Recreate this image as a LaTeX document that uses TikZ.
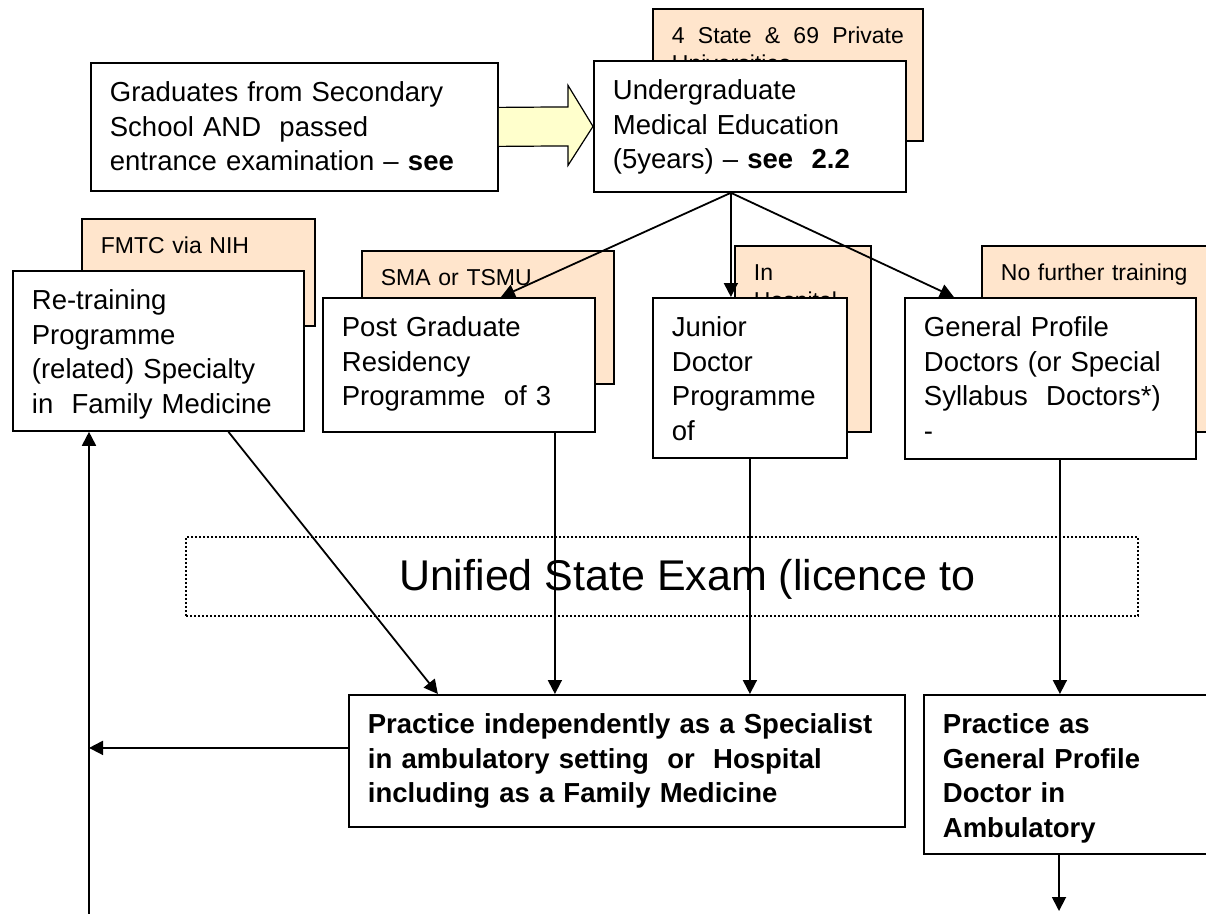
\documentclass[tikz,border=0pt]{standalone}
\usepackage{fontspec}
\setmainfont{Liberation Sans}
\usetikzlibrary{arrows.meta,calc}

\definecolor{notepeach}{RGB}{255,229,204}
\definecolor{arrowyellow}{RGB}{255,255,204}
\newcommand{\mainfnt}{\fontsize{27.5}{34.5}\selectfont}
\newcommand{\notefnt}{\fontsize{23}{28}\selectfont}
\newcommand{\examfnt}{\fontsize{43}{50}\selectfont}

\begin{document}
\begin{tikzpicture}[x=1pt, y=-1pt,
    % Styles
    box/.style={draw, fill=white, line width=1.8pt, anchor=north west,
                align=left, inner xsep=19pt, inner ysep=0pt,
                text height=39pt, font=\mainfnt},
    note/.style={box, fill=notepeach, text height=35pt, font=\notefnt},
    keybox/.style={box, font=\mainfnt\bfseries},
    exam/.style={draw, line width=2pt, dash pattern=on 2pt off 2pt,
                 anchor=north west, inner sep=0pt,
                 minimum width=952pt, minimum height=79pt,
                 text height=33pt, text depth=6pt, font=\examfnt},
    link/.style={draw, line width=1.8pt, -{Triangle[length=14pt,width=14pt]}}
]
\clip (0,0) rectangle (1206,913);

% Notes behind the boxes
\node[note, text width=232pt, text depth=97pt, align=justify] (unis) at (652,8) {4 State \& 69 Private Universities};
\node[note, text width=195pt, text depth=72pt] (fmtc) at (81,218) {FMTC via NIH};
\node[note, text width=214pt, text depth=98pt] (sma) at (361,250) {SMA or TSMU};
\node[note, text width=98pt, text depth=151pt] (hosp) at (734,245) {In\\Hospital};
\node[note, text width=242pt, text depth=151pt] (nofurther) at (981,245) {No further training};

% Top row
\node[box, text width=369pt, text depth=89pt] (grad) at (90,62)
    {Graduates from Secondary\\School AND\ \ passed\\entrance examination -- \textbf{see}};
\node[box, text width=274pt, text depth=92pt] (undergrad) at (593,60)
    {Undergraduate\\Medical Education\\(5years) -- \textbf{see\ \ 2.2}};

\draw[fill=arrowyellow, line width=1.2pt]
    ($(grad.east)+(0,-19.5)$) -- ($(undergrad.west)+(-25,-19.5)$)
    -- ($(undergrad.west)+(-25,-41)$) -- (undergrad.west)
    -- ($(undergrad.west)+(-25,39)$) -- ($(undergrad.west)+(-25,19.5)$)
    -- ($(grad.east)+(0,19.5)$);

% Training paths
\node[box, text width=253pt, text depth=121pt] (retrain) at (12,270)
    {Re-training\\Programme\\(related) Specialty\\in\ \ Family Medicine};
\node[box, text width=234pt, text depth=95pt] (postgrad) at (322,297)
    {Post Graduate\\Residency\\Programme\ \ of 3};
\node[box, text width=156pt, text depth=121pt] (junior) at (652,297)
    {Junior\\Doctor\\Programme\\of};
\node[box, text width=253pt, text depth=122pt] (general) at (904,297)
    {General Profile\\Doctors (or Special\\Syllabus\ \ Doctors*)\\-};

% Exam
\node[exam] (exam) at (185,536) {\hspace*{50pt}Unified State Exam (licence to};

% Practice
\node[keybox, text width=518pt, text depth=93pt] (indep) at (348,694)
    {Practice independently as a Specialist\\in ambulatory setting\ \ or\ \ Hospital\\including as a Family Medicine};
\node[keybox, text width=282pt, text depth=120pt] (gp) at (923,694)
    {Practice as\\General Profile\\Doctor in\\Ambulatory};

\coordinate (base) at (89,930);
\coordinate (gpend) at (1059,911);

% Connectors
\draw[link] ([xshift=-19pt]undergrad.south) -- ([xshift=42pt]postgrad.north);
\draw[link] ([xshift=-19pt]undergrad.south) -- ([xshift=-19pt]junior.north);
\draw[link] ([xshift=-19pt]undergrad.south) -- ([xshift=-96.5pt]general.north);
\draw[link] ([xshift=70pt]retrain.south) -- ([xshift=-189pt]indep.north);
\draw[link] ([xshift=96pt]postgrad.south) -- ([xshift=96pt]postgrad.south |- indep.north);
\draw[link] (junior.south) -- (junior.south |- indep.north);
\draw[link] ([xshift=9.5pt]general.south) -- ([xshift=9.5pt]general.south |- gp.north);
\draw[link] (gpend |- gp.south) -- (gpend);
\draw[link] ([yshift=13pt]indep.west) -- ([yshift=13pt]indep.west -| base);
\draw[link] (base) -- (base |- retrain.south);

\end{tikzpicture}
\end{document}
